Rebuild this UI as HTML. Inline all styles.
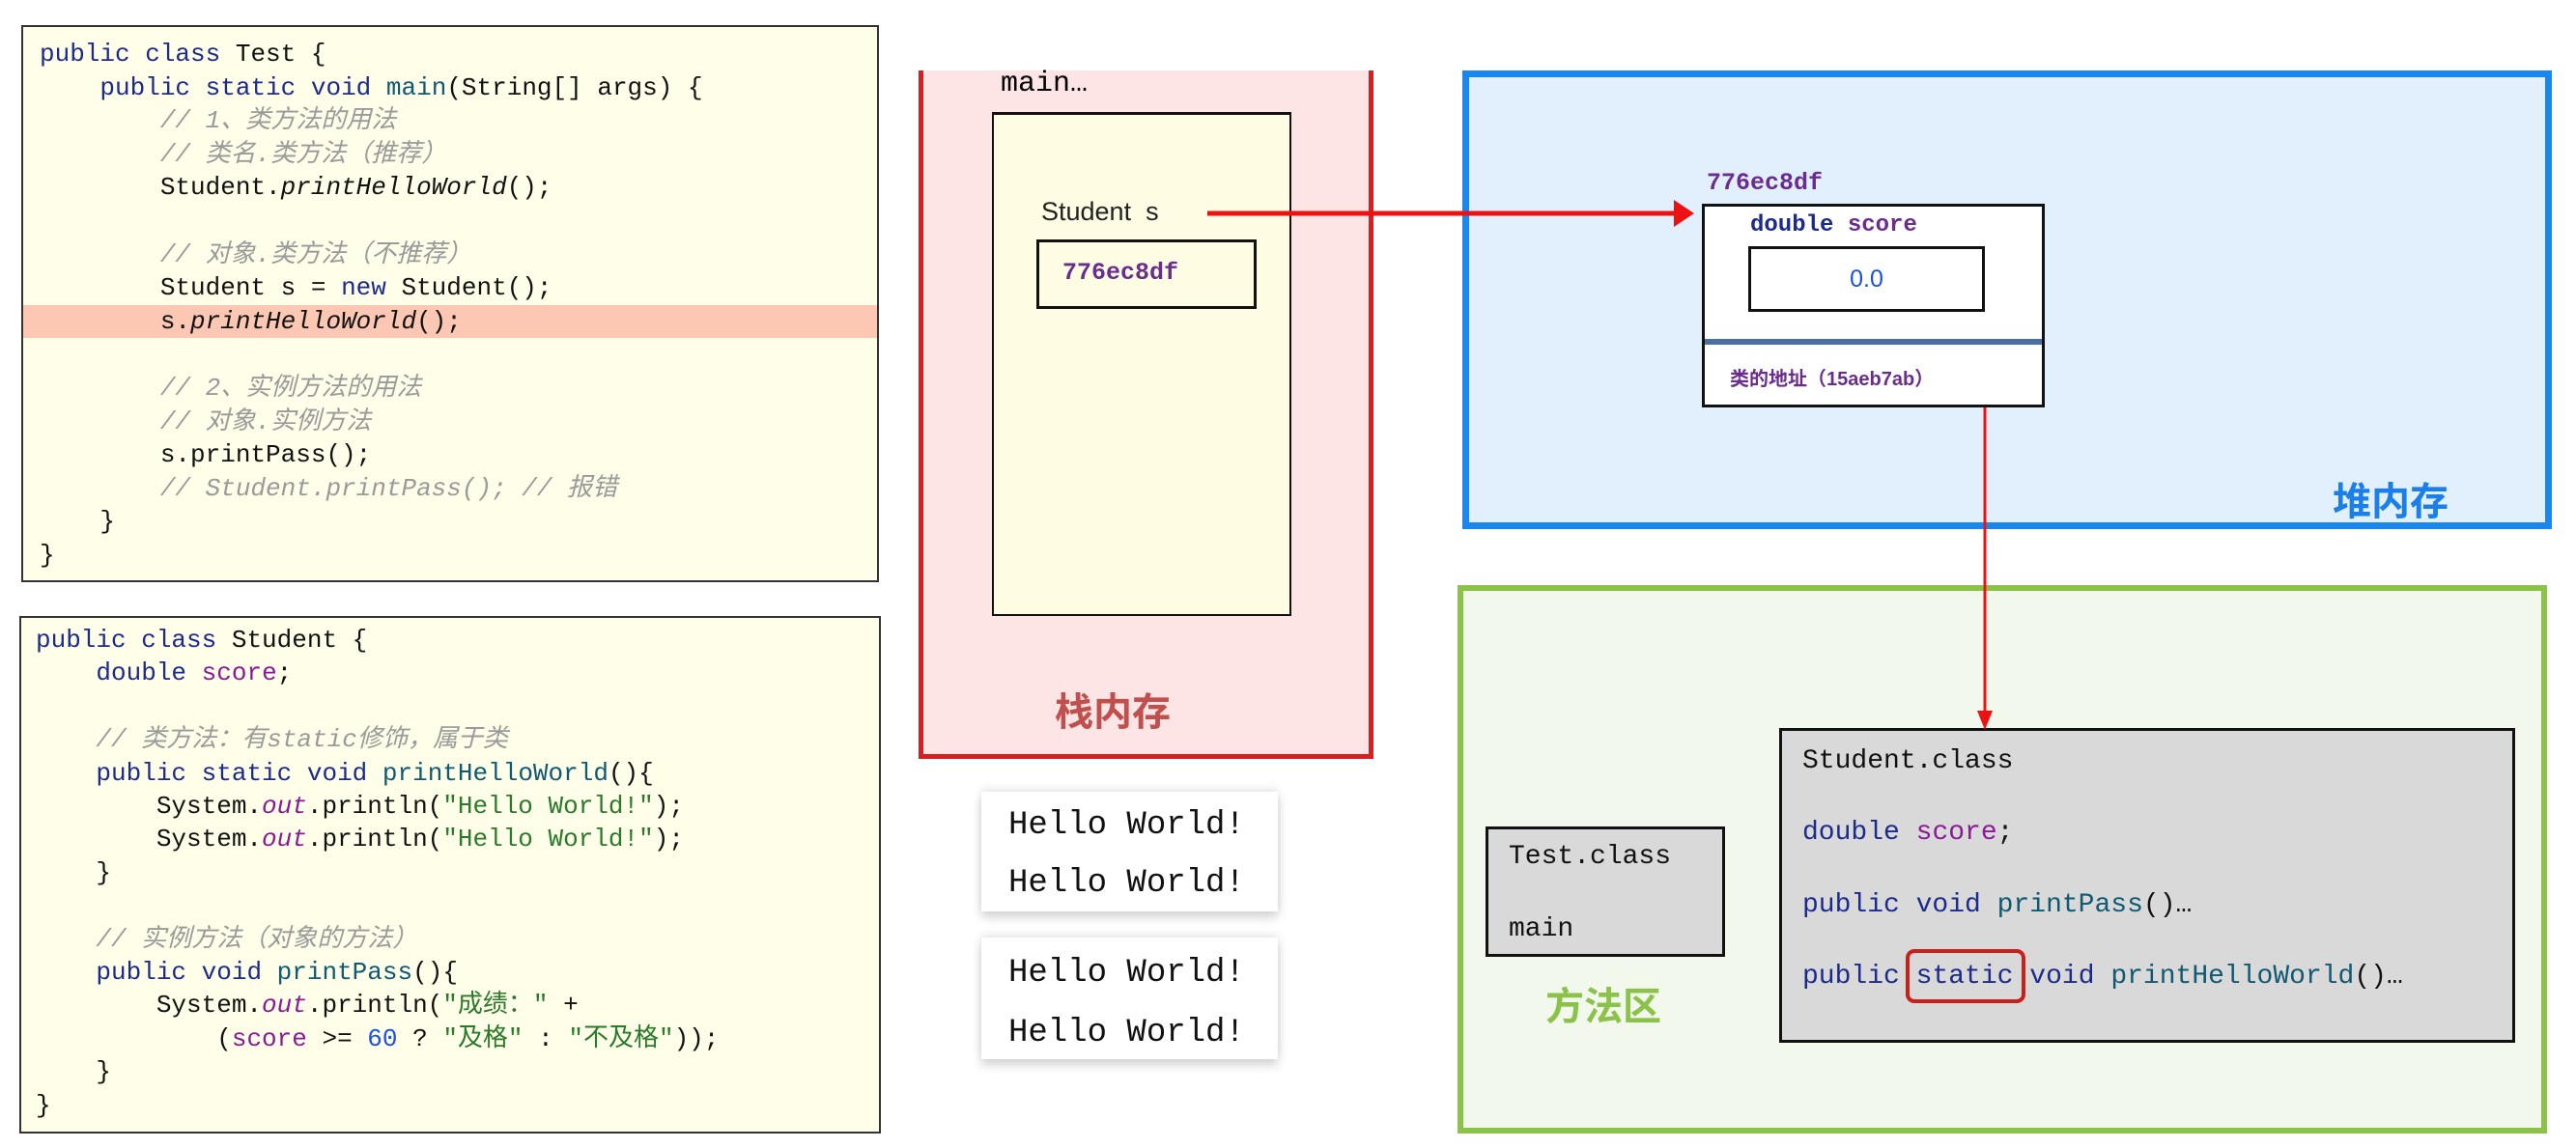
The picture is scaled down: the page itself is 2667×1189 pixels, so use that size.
<!DOCTYPE html>
<html><head><meta charset="utf-8"><style>
*{margin:0;padding:0;box-sizing:border-box}
body{width:2667px;height:1189px;background:#fff;position:relative;overflow:hidden;font-family:"Liberation Sans","Noto Sans CJK SC",sans-serif}
.a{position:absolute}
pre{font-family:"Liberation Mono","Noto Sans CJK SC",monospace;font-size:26px;line-height:34.6px;color:#111}
.k{color:#1c2a8c}.m{color:#0f5a72}.c{color:#9a9a9a;font-style:italic}.s{color:#2a7a2a}.f{color:#8a1a96}.o{color:#8a1a96;font-style:italic}.n{color:#1750eb}.i{font-style:italic}
.mono{font-family:"Liberation Mono","Noto Sans CJK SC",monospace}
.hello{background:#fff;box-shadow:0 6px 10px rgba(0,0,0,.18),0 -4px 8px rgba(0,0,0,.08)}
</style></head><body>

<div class="a" style="left:22px;top:26px;width:888px;height:577px;background:#fefee9;border:2px solid #333"></div>
<div class="a" style="left:24px;top:316px;width:884px;height:34px;background:#fcc8b4"></div>
<pre class="a" style="left:41px;top:39px"><span class="k">public class</span> Test {
    <span class="k">public static void</span> <span class="m">main</span>(String[] args) {
        <span class="c">// 1、类方法的用法</span>
        <span class="c">// 类名.类方法（推荐）</span>
        Student.<span class="i">printHelloWorld</span>();

        <span class="c">// 对象.类方法（不推荐）</span>
        Student s = <span class="k">new</span> Student();
        s.<span class="i">printHelloWorld</span>();

        <span class="c">// 2、实例方法的用法</span>
        <span class="c">// 对象.实例方法</span>
        s.printPass();
        <span class="c">// Student.printPass(); // 报错</span>
    }
}</pre>

<div class="a" style="left:20px;top:638px;width:892px;height:536px;background:#fefee9;border:2px solid #333"></div>
<pre class="a" style="left:37px;top:646px;line-height:34.4px"><span class="k">public class</span> Student {
    <span class="k">double</span> <span class="f">score</span>;

    <span class="c">// 类方法：有static修饰，属于类</span>
    <span class="k">public static void</span> <span class="m">printHelloWorld</span>(){
        System.<span class="o">out</span>.println(<span class="s">"Hello World!"</span>);
        System.<span class="o">out</span>.println(<span class="s">"Hello World!"</span>);
    }

    <span class="c">// 实例方法（对象的方法）</span>
    <span class="k">public void</span> <span class="m">printPass</span>(){
        System.<span class="o">out</span>.println(<span class="s">"成绩：" </span>+
            (<span class="f">score</span> &gt;= <span class="n">60</span> ? <span class="s">"及格"</span> : <span class="s">"不及格"</span>));
    }
}</pre>

<!-- stack -->
<div class="a" style="left:951px;top:73px;width:471px;height:713px;background:#fde5e5;border:5px solid #d42020;border-top:none"></div>
<div class="a mono" style="left:1036px;top:70px;font-size:30px">main…</div>
<div class="a" style="left:1027px;top:116px;width:310px;height:522px;background:#fefde3;border:2px solid #111;border-top-width:3px"></div>
<div class="a" style="left:1078px;top:204px;font-size:27px;color:#222">Student&nbsp; s</div>
<div class="a" style="left:1073px;top:248px;width:228px;height:72px;border:3px solid #111;background:#fefde3"></div>
<div class="a mono" style="left:1100px;top:268px;font-size:25px;font-weight:bold;color:#6a2d8f">776ec8df</div>
<div class="a" style="left:1092px;top:705px;font-size:40px;font-weight:bold;color:#c0504d">栈内存</div>

<div class="a hello" style="left:1016px;top:820px;width:307px;height:124px"></div>
<div class="a hello" style="left:1016px;top:971px;width:307px;height:126px"></div>
<div class="a mono" style="left:1044px;top:825px;font-size:34px;line-height:60px;color:#111">Hello World!<br>Hello World!</div>
<div class="a mono" style="left:1044px;top:977px;font-size:34px;line-height:62px;color:#111">Hello World!<br>Hello World!</div>

<!-- heap -->
<div class="a" style="left:1514px;top:73px;width:1128px;height:475px;background:#e2f0fd;border:7px solid #1a86f0"></div>
<div class="a" style="left:2415px;top:487px;font-size:40px;font-weight:bold;color:#1a7fe8">堆内存</div>
<div class="a mono" style="left:1767px;top:175px;font-size:25px;font-weight:bold;color:#6a2d8f">776ec8df</div>
<div class="a" style="left:1762px;top:211px;width:355px;height:211px;background:#fff;border:3px solid #111"></div>
<div class="a mono" style="left:1812px;top:220px;font-size:24px;font-weight:bold;color:#1c2a8c">double <span style="color:#6a2d8f">score</span></div>
<div class="a" style="left:1810px;top:255px;width:245px;height:68px;border:3px solid #111;background:#fff;text-align:center;line-height:62px;font-size:25px;color:#1750eb">0.0</div>
<div class="a" style="left:1765px;top:351px;width:349px;height:6px;background:#4a6fa5"></div>
<div class="a" style="left:1791px;top:376px;font-size:20px;font-weight:bold;color:#6a2d8f">类的地址（15aeb7ab）</div>

<!-- method area -->
<div class="a" style="left:1509px;top:606px;width:1128px;height:568px;background:#f2f8eb;border:6px solid #8bc34a"></div>
<div class="a" style="left:1600px;top:1010px;font-size:40px;font-weight:bold;color:#8bc34a">方法区</div>
<div class="a" style="left:1538px;top:856px;width:248px;height:135px;background:#d9d9d9;border:3px solid #111"></div>
<div class="a mono" style="left:1562px;top:850px;font-size:28px;line-height:75px;color:#111">Test.class<br>main</div>
<div class="a" style="left:1842px;top:754px;width:762px;height:326px;background:#d9d9d9;border:3px solid #111"></div>
<div class="a mono" style="left:1866px;top:752px;font-size:28px;line-height:74.3px;color:#111;white-space:pre">Student.class
<span class="k">double</span> <span class="f">score</span>;
<span class="k">public void</span> <span class="m">printPass</span>()…
<span class="k">public</span> <span class="k">static</span> <span class="k">void</span> <span class="m">printHelloWorld</span>()…</div>
<div class="a" style="left:1973px;top:983px;width:124px;height:56px;border:4px solid #c8201a;border-radius:9px"></div>

<svg class="a" style="left:0;top:0" width="2667" height="1189">
<line x1="1250" y1="221" x2="1735" y2="221" stroke="#ee1111" stroke-width="5"/>
<polygon points="1733,207 1754,221 1733,235" fill="#ee1111"/>
<line x1="2055" y1="422" x2="2055" y2="738" stroke="#ee1111" stroke-width="3"/>
<polygon points="2047,736 2063,736 2055,756" fill="#ee1111"/>
</svg>
</body></html>
